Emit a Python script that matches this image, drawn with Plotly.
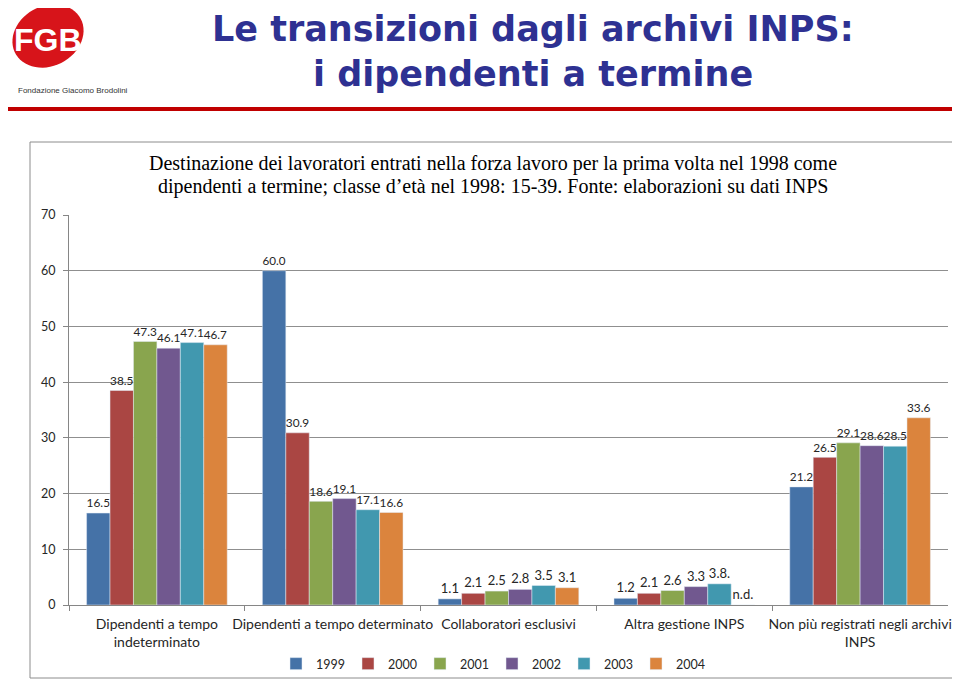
import numpy as np
import plotly.graph_objects as go

# categories and series
categories = [
    "Dipendenti a tempo<br>indeterminato",
    "Dipendenti a tempo determinato",
    "Collaboratori esclusivi",
    "Altra gestione INPS",
    "Non più registrati negli archivi<br>INPS",
]
years = ["1999", "2000", "2001", "2002", "2003", "2004"]
colors = ["#4572A7", "#AA4643", "#89A54E", "#71588F", "#4198AF", "#DB843D"]

v1999 = [16.5, 60.0, 1.1, 1.2, 21.2]
v2000 = [38.5, 30.9, 2.1, 2.1, 26.5]
v2001 = [47.3, 18.6, 2.5, 2.6, 29.1]
v2002 = [46.1, 19.1, 2.8, 3.3, 28.6]
v2003 = [47.1, 17.1, 3.5, 3.8, 28.5]
v2004 = [46.7, 16.6, 3.1, None, 33.6]

l1999 = ["16.5", "60.0", "1.1", "1.2", "21.2"]
l2000 = ["38.5", "30.9", "2.1", "2.1", "26.5"]
l2001 = ["47.3", "18.6", "2.5", "2.6", "29.1"]
l2002 = ["46.1", "19.1", "2.8", "3.3", "28.6"]
l2003 = ["47.1", "17.1", "3.5", "3.8.", "28.5"]
l2004 = ["46.7", "16.6", "3.1", "n.d.", "33.6"]

series = [v1999, v2000, v2001, v2002, v2003, v2004]
labels = [l1999, l2000, l2001, l2002, l2003, l2004]

W, H = 960, 681
OFF = 8  # page body margin
def px(x):
    return (x - OFF) / W
def py(y):
    return 1 - (y - OFF) / H

fig = go.Figure()
for yr, col, vals, lab in zip(years, colors, series, labels):
    # n.d. bar drawn at zero so its label sits on the axis
    fig.add_trace(go.Bar(
        name=yr, x=categories, y=[0 if v is None else v for v in vals],
        text=lab, textposition="outside", marker_color=col,
        textfont=dict(size=13, color="#262626", family="Lato"),
        cliponaxis=False, hoverinfo="skip",
    ))

fig.update_layout(
    width=W, height=H,
    margin=dict(l=0, r=0, t=0, b=0),
    paper_bgcolor="white", plot_bgcolor="white",
    barmode="group", bargap=0.2, bargroupgap=0,
    font=dict(family="Lato", size=12, color="#262626"),
    xaxis=dict(
        domain=[px(69), px(948)], showline=True, linecolor="#868686",
        ticks="outside", tickson="boundaries", ticklen=5, tickcolor="#868686",
        tickangle=0, automargin=False, ticklabelstandoff=6,
        tickfont=dict(size=14, family="Lato", color="#262626"),
    ),
    yaxis=dict(
        domain=[py(605), py(215)], range=[0, 70], dtick=10,
        showline=True, linecolor="#868686", showgrid=True, gridcolor="#8f8f8f",
        ticks="outside", ticklen=5, tickcolor="#868686", zeroline=False,
        automargin=False, ticklabelstandoff=5,
        tickfont=dict(size=12.5, family="Lato", color="#262626"),
    ),
    legend=dict(
        orientation="h", x=px(492), xanchor="center", y=py(664), yanchor="middle",
        entrywidth=27, entrywidthmode="pixels", itemwidth=30,
        bgcolor="rgba(0,0,0,0)",
        font=dict(size=12.5, family="Lato", color="#262626"),
    ),
)

# chart frame and the red rule under the header
fig.add_shape(type="rect", xref="paper", yref="paper",
              x0=px(30), x1=px(956), y0=py(678), y1=py(142),
              line=dict(color="#8c8c8c", width=1), layer="below")
fig.add_shape(type="line", xref="paper", yref="paper",
              x0=px(2), x1=px(956), y0=py(109), y1=py(109),
              line=dict(color="#C00000", width=4))

# logo: tilted red ellipse
t = np.linspace(0, 2 * np.pi, 60)
a, b, rot = 37, 30, np.deg2rad(28)
ex = 48 + a * np.cos(t) * np.cos(rot) - b * np.sin(t) * np.sin(rot)
ey = 36 - (a * np.cos(t) * np.sin(rot) + b * np.sin(t) * np.cos(rot))
path = "M " + " L ".join(f"{px(x):.5f},{py(y):.5f}" for x, y in zip(ex, ey)) + " Z"
fig.add_shape(type="path", xref="paper", yref="paper", path=path,
              fillcolor="#D7141A", line=dict(width=0), layer="below")
fig.add_annotation(text="<b>FGB</b>", xref="paper", yref="paper",
                   x=px(48), y=py(40), xanchor="center", yanchor="middle", showarrow=False,
                   font=dict(size=32, color="white", family="Liberation Sans Narrow, Liberation Sans"))
fig.add_annotation(text="Fondazione Giacomo Brodolini", xref="paper", yref="paper",
                   x=px(16), y=py(90), xanchor="left", yanchor="middle", showarrow=False,
                   font=dict(size=8, color="#333333", family="Liberation Sans"))

# slide title
for txt, yy in [("Le transizioni dagli archivi INPS:", 29), ("i dipendenti a termine", 74)]:
    fig.add_annotation(text=f"<b>{txt}</b>", xref="paper", yref="paper",
                       x=px(533), y=py(yy), xanchor="center", yanchor="middle", showarrow=False,
                       font=dict(size=35, color="#2E3192", family="DejaVu Sans"))

# chart title
for txt, yy in [("Destinazione dei lavoratori entrati nella forza lavoro per la prima volta nel 1998 come", 163),
                ("dipendenti a termine; classe d’età nel 1998: 15-39. Fonte: elaborazioni su dati INPS", 186)]:
    fig.add_annotation(text=txt, xref="paper", yref="paper", x=px(493), y=py(yy),
                       xanchor="center", yanchor="middle", showarrow=False,
                       font=dict(size=20, color="#000000", family="Liberation Serif"))

fig.write_html("out.html")
